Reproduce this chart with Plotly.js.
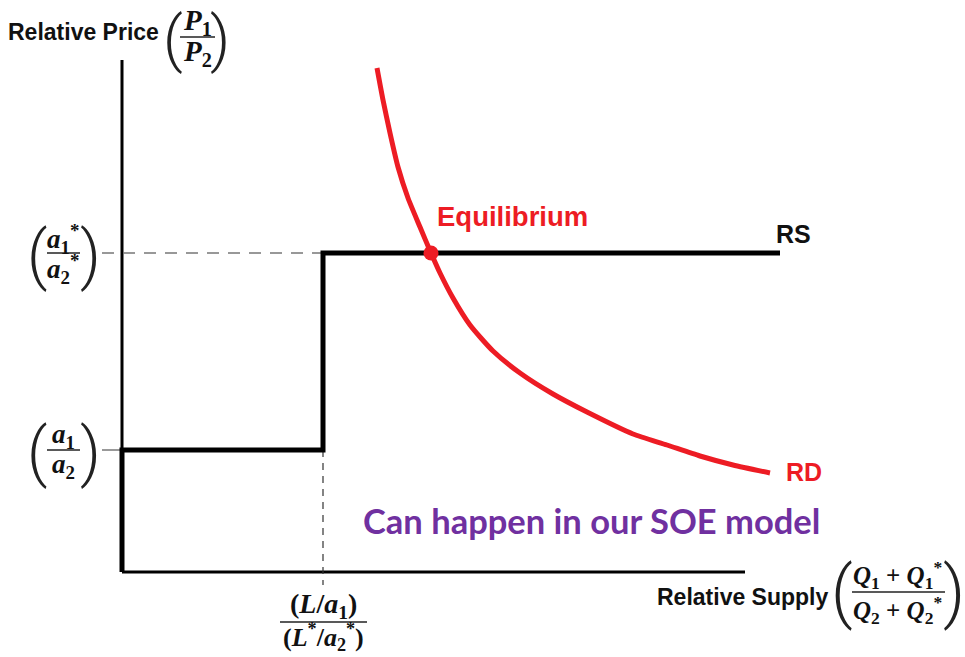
<!DOCTYPE html>
<html><head><meta charset="utf-8">
<script src="https://cdn.plot.ly/plotly-3.0.1.min.js"></script>
<style>html,body{margin:0;padding:0;background:#fff}#chart{width:965px;height:657px}</style>
</head><body><div id="chart"></div>
<script>
// ---------- data (x = relative supply, y = relative price) ----------
const rsSupply = [0, 0, 2.01, 2.01, 6.58];
const rsPrice  = [0, 1.22, 1.22, 3.19, 3.19];
const rdSupply = [2.55, 2.61, 2.68, 2.76, 2.86, 2.98, 3.09, 3.18, 3.31, 3.48, 3.71, 3.98, 4.31, 4.65, 5.11, 5.45, 5.78, 6.11, 6.48];
const rdPrice  = [5.04, 4.72, 4.39, 4.05, 3.74, 3.45, 3.19, 2.99, 2.74, 2.47, 2.21, 1.99, 1.78, 1.60, 1.38, 1.27, 1.16, 1.07, 0.99];
const eqSupply = [3.09];
const eqPrice  = [3.19];
const autarkyPrice = 1.22;   // a1/a2
const foreignPrice = 3.19;   // a1*/a2*
const kinkSupply   = 2.01;   // (L/a1)/(L*/a2*)
const axisMaxX = 6.23, axisMaxY = 5.12;

// ---------- helpers for label placement (pixel -> axis units) ----------
const L0 = 122, B0 = 572, S = 100;
const X = px => (px - L0) / S;
const Y = py => (B0 - py) / S;

const RED = '#ED1C24', PURPLE = '#7030A0';
const SANS = 'Liberation Sans, Arial, sans-serif';
const SERIF = 'Liberation Serif, Times New Roman, serif';

const annotations = [];
const shapes = [];
function txt(px, py, text, font, extra) {
  annotations.push(Object.assign({x: X(px), y: Y(py), xref: 'x', yref: 'y', text: text,
    showarrow: false, xanchor: 'center', yanchor: 'middle', font: font}, extra || {}));
}
function mathFont(size) { return {family: SERIF, size: size, color: '#111'}; }
function bar(x0, x1, py) {
  shapes.push({type: 'line', xref: 'x', yref: 'y', x0: X(x0), x1: X(x1), y0: Y(py), y1: Y(py),
    line: {color: '#222', width: 1.5}});
}
function parens(xl, xr, py, size) {
  const f = {family: 'Roboto, sans-serif', weight: 300, size: size, color: '#222'};
  txt(xl, py, '(', f);
  txt(xr, py, ')', f);
}

// axis titles
txt(83, 32, '<b>Relative Price</b>', {family: SANS, size: 23, color: '#111'});
txt(197, 22, '<b><i>P</i><sub>1</sub></b>', mathFont(29));
bar(180, 215, 37);
txt(197, 53, '<b><i>P</i><sub>2</sub></b>', mathFont(29));
parens(173, 220, 38, 62);

txt(742, 597, '<b>Relative Supply</b>', {family: SANS, size: 23, color: '#111'});
txt(897, 575, '<b><i>Q</i><sub>1</sub> + <i>Q</i><sub>1</sub><sup>*</sup></b>', mathFont(25));
bar(852, 945, 592);
txt(897, 610, '<b><i>Q</i><sub>2</sub> + <i>Q</i><sub>2</sub><sup>*</sup></b>', mathFont(25));
parens(842, 954, 592, 68);

// y tick labels
txt(63, 239, '<b><i>a</i><sub>1</sub><sup>*</sup></b>', mathFont(27));
bar(47, 80, 253);
txt(63, 269, '<b><i>a</i><sub>2</sub><sup>*</sup></b>', mathFont(27));
parens(37, 90, 255, 64);

txt(63, 436, '<b><i>a</i><sub>1</sub></b>', mathFont(27));
bar(47, 80, 450);
txt(63, 466, '<b><i>a</i><sub>2</sub></b>', mathFont(27));
parens(37, 90, 452, 64);

// x tick label
txt(323, 605, '<b>(<i>L</i>/<i>a</i><sub>1</sub>)</b>', mathFont(28));
bar(280, 367, 622);
txt(323, 637, '<b>(<i>L</i><sup>*</sup>/<i>a</i><sub>2</sub><sup>*</sup>)</b>', mathFont(26));

// curve labels
txt(512, 216, '<b>Equilibrium</b>', {family: SANS, size: 27.5, color: RED});
txt(793, 234, '<b>RS</b>', {family: SANS, size: 25, color: '#111'});
txt(804, 472, '<b>RD</b>', {family: SANS, size: 25, color: RED});
txt(591, 520, '<b>Can happen in our SOE model</b>', {family: 'Lato, Open Sans, sans-serif', size: 34.5, color: PURPLE});

// axes lines
shapes.push({type: 'line', xref: 'x', yref: 'y', x0: 0, x1: axisMaxX, y0: 0, y1: 0, line: {color: '#000', width: 3}, layer: 'below'});
shapes.push({type: 'line', xref: 'x', yref: 'y', x0: 0, x1: 0, y0: 0, y1: axisMaxY, line: {color: '#000', width: 3}, layer: 'below'});
// guide lines
shapes.push({type: 'line', xref: 'x', yref: 'y', x0: -0.2, x1: kinkSupply, y0: foreignPrice, y1: foreignPrice,
  line: {color: '#777', width: 1.5, dash: '12px,9px'}, layer: 'below'});
shapes.push({type: 'line', xref: 'x', yref: 'y', x0: -0.2, x1: 0, y0: autarkyPrice, y1: autarkyPrice,
  line: {color: '#777', width: 1.5}, layer: 'below'});
shapes.push({type: 'line', xref: 'x', yref: 'y', x0: kinkSupply, x1: kinkSupply, y0: autarkyPrice, y1: -0.13,
  line: {color: '#333', width: 1.2, dash: '7px,6px'}, layer: 'below'});

const traces = [
  {x: rsSupply, y: rsPrice, mode: 'lines', line: {color: '#000', width: 5}, hoverinfo: 'skip'},
  {x: rdSupply, y: rdPrice, mode: 'lines', line: {color: RED, width: 5, shape: 'spline', smoothing: 0.6}, hoverinfo: 'skip'},
  {x: eqSupply, y: eqPrice, mode: 'markers', marker: {color: RED, size: 15}, hoverinfo: 'skip'}
];

const layout = {
  width: 965, height: 657,
  margin: {l: 0, r: 0, t: 0, b: 0, pad: 0},
  paper_bgcolor: '#fff', plot_bgcolor: '#fff',
  showlegend: false,
  xaxis: {range: [X(0), X(965)], visible: false, fixedrange: true},
  yaxis: {range: [Y(657), Y(0)], visible: false, fixedrange: true},
  shapes: shapes,
  annotations: annotations
};
Plotly.newPlot('chart', traces, layout, {displayModeBar: false, staticPlot: true});
</script>
</body></html>
